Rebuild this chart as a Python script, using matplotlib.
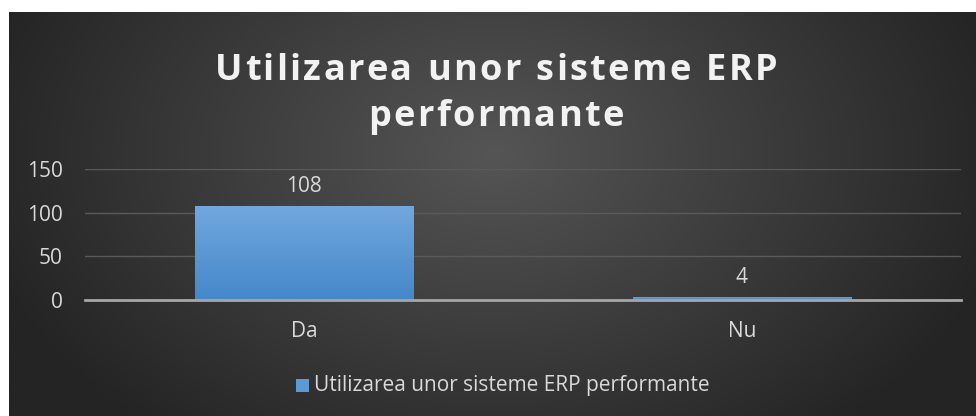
import numpy as np
import matplotlib.pyplot as plt
from matplotlib.patches import Rectangle

categories = ['Da', 'Nu']
values = [108, 4]
series_name = 'Utilizarea unor sisteme ERP performante'
title_lines = ['Utilizarea unor sisteme ERP', 'performante']
yticks = [0, 50, 100, 150]

FONT = 'Open Sans'
TXT = '#d9d9d9'
W, H = 976, 416
fig = plt.figure(figsize=(W / 100, H / 100), dpi=100)
fig.patch.set_facecolor('white')

# dark radial background
bg = fig.add_axes([9 / W, 0, 1 - 9 / W, (H - 12) / H])
bg.set_axis_off()
yy, xx = np.mgrid[0:1:300j, 0:1:700j]
r = np.sqrt(((xx - 0.5) / 0.55) ** 2 + ((yy - 0.35) / 0.9) ** 2)
r = np.clip(r, 0, 1)
lo, hi = np.array([0x55, 0x55, 0x55]) / 255, np.array([0x24, 0x24, 0x24]) / 255
img = lo[None, None, :] * (1 - r[..., None]) + hi[None, None, :] * r[..., None]
bg.imshow(img, aspect='auto', extent=[0, 1, 1, 0])
bg.set_xlim(0, 1)
bg.set_ylim(1, 0)

ax = fig.add_axes([85 / W, (H - 300) / H, (961 - 85) / W, (300 - 169) / H])
ax.patch.set_alpha(0)
x = np.arange(len(categories))
bars = ax.bar(x, values, width=0.5, color='none', zorder=2)

# vertical gradient fill for bars
grad = np.linspace(0, 1, 100)[:, None]
top_c = np.array([0x72, 0xa8, 0xdd]) / 255
bot_c = np.array([0x44, 0x88, 0xca]) / 255
gimg = top_c[None, None, :] * (1 - grad[..., None]) + bot_c[None, None, :] * grad[..., None]
gimg = np.repeat(gimg, 2, axis=1)
for b in bars:
    x0, w, h = b.get_x(), b.get_width(), b.get_height()
    im = ax.imshow(gimg, extent=[x0, x0 + w, 0, h], aspect='auto', zorder=2)
    im.set_clip_path(Rectangle((x0, 0), w, h, transform=ax.transData))
ax.set_aspect('auto')
ax.set_xlim(-0.5, len(categories) - 0.5)
ax.set_ylim(0, 150)

for xi, v in zip(x, values):
    ax.annotate(str(v), (xi, v), xytext=(0, 6), textcoords='offset points',
                ha='center', va='bottom', color=TXT, fontsize=15, family=FONT)

ax.set_yticks(yticks)
ax.set_xticks(x)
ax.set_xticklabels(categories)
ax.tick_params(axis='both', length=0, colors=TXT, labelsize=15)
ax.tick_params(axis='y', pad=16)
ax.tick_params(axis='x', pad=15)
for lab in ax.get_xticklabels() + ax.get_yticklabels():
    lab.set_family(FONT)
ax.yaxis.grid(True, color='#5a5a5a', lw=1)
ax.set_axisbelow(True)
for s in ['top', 'right', 'left']:
    ax.spines[s].set_visible(False)
ax.spines['bottom'].set_color('#a6a6a6')
ax.spines['bottom'].set_linewidth(2)
ax.spines['bottom'].set_zorder(3)


def spaced_text(s, xc, yc, spacing, **kw):
    # draw text letter by letter so we get some letter spacing
    renderer = fig.canvas.get_renderer()
    widths = []
    for ch in s:
        t = fig.text(0, 0, ch if ch != ' ' else 'n', **kw)
        bb = t.get_window_extent(renderer)
        widths.append(bb.width if ch != ' ' else bb.width * 0.45)
        t.remove()
    total = sum(widths) + spacing * (len(s) - 1)
    cur = xc - total / 2
    for ch, wd in zip(s, widths):
        if ch != ' ':
            fig.text(cur / W, yc / H, ch, ha='left', va='baseline', **kw)
        cur += wd + spacing


tkw = dict(color='#f2f2f2', fontsize=26, fontweight='bold', family=FONT)
spaced_text(title_lines[0], 496, H - 80, 2.3, **tkw)
spaced_text(title_lines[1], 496, H - 126, 2.3, **tkw)

# legend
fig.patches.append(Rectangle((296 / W, 1 - 392 / H), 13 / W, 13 / H,
                             transform=fig.transFigure, facecolor='#5b9bd5',
                             edgecolor='none'))
fig.text(314 / W, 1 - 385 / H, series_name, ha='left', va='center',
         color=TXT, fontsize=15, family=FONT)

fig.savefig('out.png', dpi=100)
